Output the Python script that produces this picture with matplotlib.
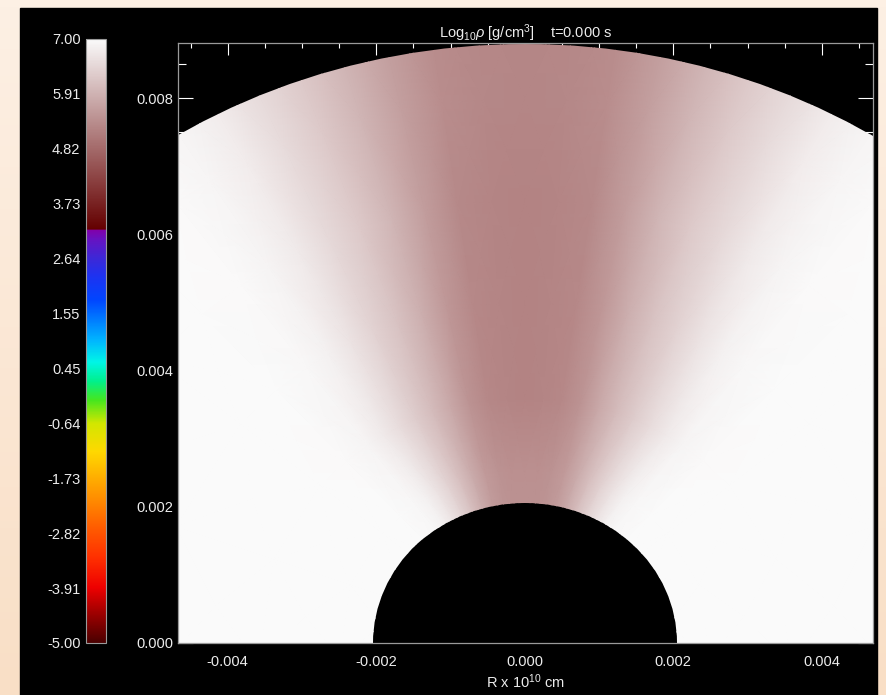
import numpy as np
import matplotlib.pyplot as plt
from matplotlib.colors import LinearSegmentedColormap, Normalize
from matplotlib.patches import Wedge, Rectangle
from matplotlib.ticker import MultipleLocator

plt.rcParams['font.family'] = ['Liberation Sans', 'DejaVu Sans']
plt.rcParams['mathtext.fontset'] = 'custom'
plt.rcParams['mathtext.rm'] = 'Liberation Sans'
plt.rcParams['mathtext.it'] = 'Liberation Sans:italic'
plt.rcParams['axes.unicode_minus'] = False

# colour table (log rho -> colour)
VMIN, VMAX = -5.0, 7.0
CT_LEVELS = [-5.00, -4.40, -3.90, -3.30, -2.80, -2.20, -1.73, -1.20, -0.64,
             -0.18, 0.20, 0.58, 1.02, 1.45, 1.81, 2.30, 2.64, 3.00, 3.21,
             3.23, 7.00]
CT_COLORS = ['#4a0000', '#a00000', '#ee0000', '#ff3000', '#ff5500', '#ff8800',
             '#ffad00', '#ffd800', '#d2e600', '#46e61e', '#00f08c', '#00f5e6',
             '#00b4ff', '#0078ff', '#0046ff', '#1e32f0', '#3c28d7', '#6414c3',
             '#8200aa', '#640000', '#fafafa']
CB_TICKS = [-5.00, -3.91, -2.82, -1.73, -0.64, 0.45, 1.55, 2.64, 3.73, 4.82, 5.91, 7.00]
CB_LABELS = ['-5.00', '-3.91', '-2.82', '-1.73', '-0.64', '0.45', '1.55',
             '2.64', '3.73', '4.82', '5.91', '7.00']

# log10 rho on a polar grid (radius x angle from the pole, one side, mirrored)
R_GRID = [0.0015, 0.0025, 0.0036, 0.0050, 0.0065, 0.0080, 0.0095]
TH_GRID = [0, 4, 8, 12, 16, 20, 24, 28, 32, 36, 42, 50, 70, 95]
LOG_RHO = [
    [5.45, 5.45, 5.48, 5.58, 5.82, 6.10, 6.40, 6.65, 6.85, 6.95, 7.00, 7.00, 7.00, 7.00],
    [5.40, 5.40, 5.44, 5.55, 5.80, 6.10, 6.40, 6.65, 6.85, 6.95, 7.00, 7.00, 7.00, 7.00],
    [5.20, 5.22, 5.28, 5.45, 5.75, 6.05, 6.30, 6.55, 6.75, 6.90, 6.98, 7.00, 7.00, 7.00],
    [5.20, 5.22, 5.28, 5.50, 5.85, 6.15, 6.40, 6.65, 6.85, 6.95, 7.00, 7.00, 7.00, 7.00],
    [5.20, 5.22, 5.30, 5.60, 5.95, 6.25, 6.50, 6.75, 6.90, 6.98, 7.00, 7.00, 7.00, 7.00],
    [5.25, 5.27, 5.35, 5.62, 5.95, 6.25, 6.52, 6.78, 6.92, 6.98, 7.00, 7.00, 7.00, 7.00],
    [5.25, 5.27, 5.35, 5.62, 5.95, 6.25, 6.52, 6.78, 6.92, 6.98, 7.00, 7.00, 7.00, 7.00],
]
R_IN = 0.00205
R_OUT = 0.0088

X_TICKS = [-0.004, -0.002, 0.0, 0.002, 0.004]
X_LABELS = ['-0.004', '-0.002', '0.000', '0.002', '0.004']
Y_TICKS = [0.0, 0.002, 0.004, 0.006, 0.008]
Y_LABELS = ['0.000', '0.002', '0.004', '0.006', '0.008']

txt = '#ececec'
fs = 10.5
W, H = 886, 695

pos = [(v - VMIN) / (VMAX - VMIN) for v in CT_LEVELS]
cmap = LinearSegmentedColormap.from_list('idl', list(zip(pos, CT_COLORS)), N=1024)
norm = Normalize(VMIN, VMAX)

fig = plt.figure(figsize=(W / 100, H / 100), dpi=100)

# peach backdrop with the black panel
bg = fig.add_axes([0, 0, 1, 1])
grad = np.linspace(0, 1, 100)[:, None]
bg.imshow(grad, extent=[0, 1, 0, 1], aspect='auto',
          cmap=LinearSegmentedColormap.from_list('bg', ['#f9dfc6', '#fdf0e4']), origin='lower')
bg.add_patch(Rectangle((20 / W, 0), (877 - 20) / W, (H - 8) / H, color='black'))
bg.set_xlim(0, 1)
bg.set_ylim(0, 1)
bg.axis('off')

ax = fig.add_axes([178 / W, 52 / H, 695 / W, 600 / H])
ax.set_facecolor('black')

th = np.deg2rad(np.concatenate([-np.array(TH_GRID[::-1]), TH_GRID[1:]]))
vals = np.array(LOG_RHO)
vals = np.concatenate([vals[:, ::-1], vals[:, 1:]], axis=1)
rr, tt = np.meshgrid(R_GRID, th, indexing='ij')
mesh = ax.pcolormesh(rr * np.sin(tt), rr * np.cos(tt), vals, shading='gouraud',
                     cmap=cmap, norm=norm, zorder=1)
# only the shell between the star and the outer boundary holds data
shell = Wedge((0, 0), R_OUT, 0, 180, width=R_OUT - R_IN, transform=ax.transData)
mesh.set_clip_path(shell)

ax.set_xlim(-0.00467, 0.00469)
ax.set_ylim(0, 0.00881)
ax.set_axisbelow(True)  # ticks hide under the white gas, like the original

ax.set_xticks(X_TICKS, labels=X_LABELS)
ax.set_yticks(Y_TICKS, labels=Y_LABELS)
ax.xaxis.set_minor_locator(MultipleLocator(0.0005))
ax.yaxis.set_minor_locator(MultipleLocator(0.0005))
ax.tick_params(which='both', direction='in', top=True, right=True, color='white',
               width=0.8, labelcolor=txt, labelsize=fs)
ax.tick_params(axis='x', which='both', bottom=False)
ax.tick_params(axis='x', which='major', length=8.6, pad=9)
ax.tick_params(axis='x', which='minor', length=3.6)
ax.tick_params(axis='y', which='major', length=10.8, pad=3.6)
ax.tick_params(axis='y', which='minor', length=5.8)
for s in ax.spines.values():
    s.set_color('#9a9a9a')
    s.set_linewidth(0.9)

# colour bar
cax = fig.add_axes([86 / W, 52 / H, 20 / W, 604 / H])
cb = fig.colorbar(mesh, cax=cax)
cb.set_ticks(CB_TICKS, labels=CB_LABELS)
cax.yaxis.set_ticks_position('left')
cax.tick_params(length=0, labelcolor=txt, labelsize=fs, pad=4)
cax.minorticks_off()
cb.outline.set_edgecolor('#9a9a9a')
cb.outline.set_linewidth(0.8)

fig.text(525.5 / W, 1 - 33 / H, r'Log$_{10}\rho$ [g/cm$^3$]    t=0.000 s',
         color=txt, fontsize=fs, ha='center', va='center')
fig.text(525.5 / W, 1 - 682 / H, r'R x 10$^{10}$ cm', color=txt, fontsize=fs,
         ha='center', va='center')

fig.savefig('out.png', dpi=100)
